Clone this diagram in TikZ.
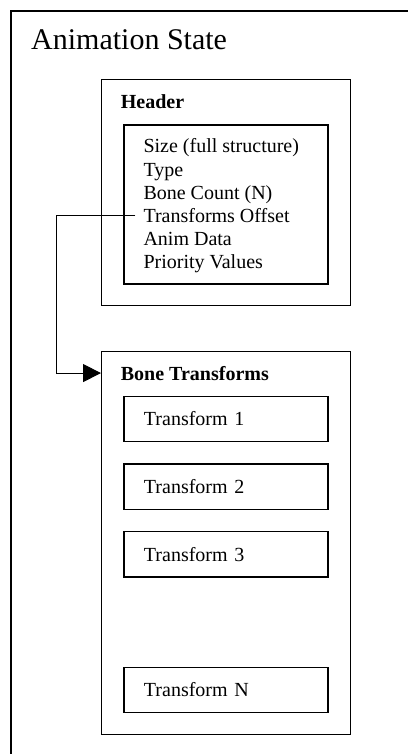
\documentclass[tikz,border=0pt]{standalone}
\usepackage{fontspec}
\setmainfont{Liberation Serif}
\usetikzlibrary{arrows.meta}

\begin{document}
\begin{tikzpicture}[x=1pt,y=-1pt,
  box/.style={draw,line width=1.3pt,inner sep=0pt,anchor=north west},
  cell/.style={box,minimum width=204pt,minimum height=45.3pt,text width=164pt,inner xsep=20pt,align=left,font=\fontsize{20}{23}\selectfont},
  txt/.style={anchor=base west,inner sep=0pt,font=\fontsize{20}{23}\selectfont},
  head/.style={txt,font=\fontsize{20}{23}\selectfont\bfseries}]
\useasboundingbox (0,0) rectangle (408,754);
\draw[line width=1.3pt] (11,754) -- (11,11) -- (408,11);
\node[txt,font=\fontsize{30}{34}\selectfont] (title) at (31,50) {Animation State};
\node[box,line width=1pt,minimum width=249pt,minimum height=225.7pt] (hdr) at (101,79.3) {};
\node[head] (hdrlbl) at (120.7,109) {Header};
\node[box,minimum width=204pt,minimum height=159pt] (fields) at (123.3,124.3) {};
\node[txt] (f1) at (143.3,153) {Size (full structure)};
\node[txt] (f2) at (143.3,176) {Type};
\node[txt] (f3) at (143.3,199) {Bone Count (N)};
\node[txt] (f4) at (143.3,222) {Transforms Offset};
\node[txt] (f5) at (143.3,245) {Anim Data};
\node[txt] (f6) at (143.3,268) {Priority Values};
\node[box,line width=1pt,minimum width=249pt,minimum height=383.6pt] (bones) at (101,350.7) {};
\node[head] (boneslbl) at (120.7,380) {Bone Transforms};
\foreach \k/\n in {0/1,1/2,2/3,4/N}
  \node[cell] (t\n) at (123.3,395.7+67.7*\k) {Transform \n};
\coordinate (bend) at (56,0);
\draw[line width=1pt,-{Triangle[length=18pt,width=18pt]}] ([xshift=-8pt]f4.west) -| (bend |- boneslbl) -- (bones.west |- boneslbl);
\end{tikzpicture}
\end{document}
